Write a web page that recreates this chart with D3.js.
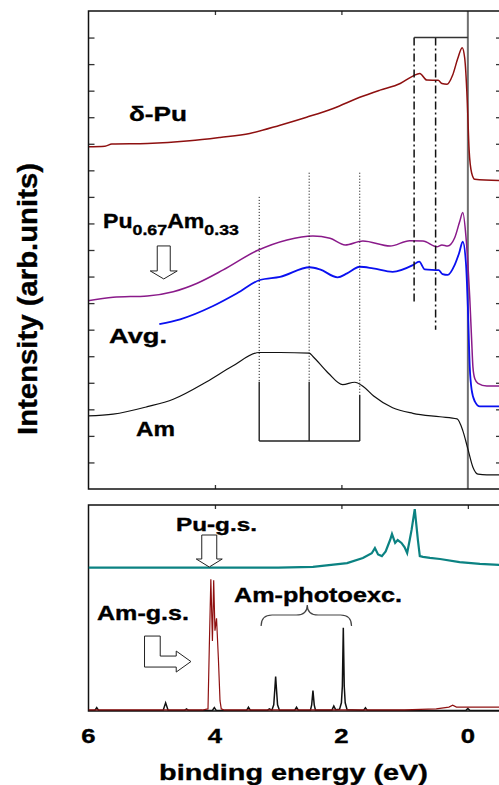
<!DOCTYPE html>
<html>
<head>
<meta charset="utf-8">
<script src="https://cdn.jsdelivr.net/npm/d3@7"></script>
<style>
  body { margin: 0; background: #fff; }
  text { font-family: "Liberation Sans", Arial, sans-serif; font-weight: bold; fill: #000; stroke: #000; stroke-width: 0.35px; }
</style>
</head>
<body>
<div id="chart"></div>
<script>
// photoemission spectra, [binding energy eV, intensity]
const deltaPu = [[6.01,12.89],[5.74,12.91],[5.63,12.99],[5.07,13.01],[4.40,13.11],[3.92,13.24],[3.45,13.39],[2.97,13.70],[2.55,14.00],[2.13,14.33],[1.71,14.75],[1.39,15.02],[1.07,15.27],[0.87,15.55],[0.76,15.65],[0.65,15.40],[0.47,15.39],[0.41,15.27],[0.33,15.24],[0.24,15.59],[0.16,16.21],[0.09,16.62],[0.05,16.23],[0.01,14.65],[-0.02,12.76],[-0.06,11.90],[-0.11,11.66],[-0.54,11.61]];
const puAm = [[6.01,7.09],[5.61,7.22],[5.07,7.27],[4.66,7.43],[4.28,7.75],[3.87,8.25],[3.34,8.97],[2.86,9.38],[2.45,9.53],[2.18,9.44],[1.94,9.19],[1.66,9.34],[1.23,9.15],[0.92,9.35],[0.71,9.34],[0.49,9.12],[0.41,9.19],[0.32,9.15],[0.21,9.45],[0.13,10.06],[0.08,10.41],[0.03,9.50],[0.00,8.50],[-0.03,7.20],[-0.06,5.60],[-0.08,4.60],[-0.11,4.15],[-0.16,3.98],[-0.30,3.88],[-0.54,3.88]];
const avg = [[4.88,6.21],[4.55,6.39],[4.03,6.89],[3.65,7.37],[3.29,7.87],[2.97,7.99],[2.50,8.35],[2.34,8.27],[2.06,7.97],[1.91,8.12],[1.71,8.37],[1.50,8.31],[1.19,8.18],[0.87,8.43],[0.77,8.56],[0.68,8.27],[0.46,8.24],[0.40,8.09],[0.32,8.06],[0.21,8.43],[0.14,8.87],[0.08,9.31],[0.03,8.49],[0.00,6.86],[-0.03,4.60],[-0.06,3.73],[-0.11,3.30],[-0.19,3.11],[-0.54,3.11]];
const am = [[6.01,2.75],[5.61,2.82],[5.07,3.10],[4.66,3.38],[4.13,4.04],[3.72,4.63],[3.30,5.14],[2.97,5.14],[2.51,5.12],[2.45,4.99],[2.21,4.37],[1.98,3.93],[1.79,4.02],[1.66,3.87],[1.49,3.50],[1.19,3.06],[0.87,2.85],[0.44,2.72],[0.17,2.64],[0.08,2.20],[0.00,1.51],[-0.08,0.82],[-0.16,0.56],[-0.30,0.53],[-0.54,0.53]];

// lower panel: calculated spectra
const puGs = [[6.0,69.6],[3.0,69.6],[2.45,70.0],[1.91,71.8],[1.66,74.3],[1.52,76.6],[1.47,79.1],[1.42,76.0],[1.36,75.2],[1.30,77.5],[1.23,83.0],[1.20,85.9],[1.15,81.6],[1.11,83.0],[1.05,81.6],[1.00,79.5],[0.96,76.7],[0.92,83.0],[0.89,87.9],[0.84,98.0],[0.79,83.0],[0.76,75.2],[0.71,74.8],[0.60,74.3],[0.44,73.8],[0.13,72.3],[-0.19,71.4],[-0.54,70.9]];
const amGs = [[6.0,0.5],[4.2,0.5],[4.11,1],[4.09,30],[4.065,64],[4.04,34],[4.02,63.5],[4.0,39],[3.975,45],[3.945,25],[3.92,5],[3.90,1],[3.85,0.5],[1.0,0.5],[0.5,1.0],[0.3,1.9],[0.24,2.8],[0.18,1.9],[-0.54,1.9]];
const amPhoto = [[6.0,0.3],[5.90,0.3],[5.87,1.7],[5.84,0.3],[4.82,0.3],[4.78,4.0],[4.74,0.3],[4.48,0.3],[4.45,1.0],[4.42,0.3],[4.04,0.3],[4.01,1.7],[3.98,0.3],[3.50,0.3],[3.47,1.8],[3.44,0.3],[3.17,0.3],[3.14,1.0],[3.10,0.4],[3.07,3],[3.05,12],[3.04,16.7],[3.03,12],[3.01,3],[2.98,0.4],[2.74,0.3],[2.71,1.8],[2.68,0.3],[2.49,0.4],[2.47,3],[2.45,9.9],[2.43,3],[2.41,0.4],[2.15,0.4],[2.12,2.4],[2.09,0.6],[2.03,0.8],[2.00,4],[1.985,12],[1.97,40.4],[1.955,12],[1.94,4],[1.91,0.6],[1.65,0.3],[1.62,1.6],[1.59,0.3],[0.03,0.3],[0.0,1.2],[-0.03,0.3],[-0.54,0.3]];

const energyTicks = [6, 4, 2, 0];
// guide lines
const dotE = [3.30, 2.51, 1.71];
const dotTop = [11.0, 11.91, 11.91];
const bracketTop = [4.04, 4.04, 3.54];
const bracketBase = 1.81;
const dashE = [0.85, 0.51];
const dashBottom = [7, 6];
const dashTop = 17;

const width = 499, height = 785;
const left = 88.5, right = 502;

const svg = d3.select("#chart").append("svg")
    .attr("width", width)
    .attr("height", height);

const x = d3.scaleLinear().domain([6, -0.54]).range([left, right]);
const yTop = d3.scaleLinear().domain([0, 18]).range([489, 11]);
const yBot = d3.scaleLinear().domain([0, 100]).range([711, 505]);

svg.append("clipPath").attr("id", "clipTop")
    .append("rect").attr("x", left).attr("y", 11).attr("width", right - left).attr("height", 478);
svg.append("clipPath").attr("id", "clipBot")
    .append("rect").attr("x", left).attr("y", 505).attr("width", right - left).attr("height", 206);

// text stretched to a measured width
function fitText(parent, str, tx, ty, size, w, extra) {
    const g = parent.append("g");
    const t = g.append("text").attr("font-size", size).text(str);
    if (extra) extra(t);
    const bw = t.node().getBBox().width;
    g.attr("transform", `translate(${tx},${ty}) scale(${w / bw},1)`);
    return g;
}

// ---- top panel ----
const gTop = svg.append("g");

gTop.append("line")
    .attr("x1", x(0)).attr("x2", x(0))
    .attr("y1", yTop(18)).attr("y2", yTop(0))
    .attr("stroke", "#707070").attr("stroke-width", 2);

// axes ticks
gTop.append("g").attr("transform", `translate(${left},0)`)
    .call(d3.axisRight(yTop).tickValues(d3.range(1, 18)).tickSize(6).tickFormat(""));
gTop.append("g").attr("transform", `translate(${right},0)`)
    .call(d3.axisLeft(yTop).tickValues(d3.range(1, 18)).tickSize(6).tickFormat(""));
gTop.append("g").attr("transform", `translate(0,${yTop(18)})`)
    .call(d3.axisBottom(x).tickValues([4, 2]).tickSize(4).tickFormat(""));
gTop.append("g").attr("transform", `translate(0,${yTop(0)})`)
    .call(d3.axisTop(x).tickValues([4, 2]).tickSize(4).tickFormat(""));
gTop.selectAll(".domain").remove();
gTop.selectAll(".tick line").attr("stroke", "#333").attr("stroke-width", 1.3);

const lineTop = d3.line()
    .x(d => x(d[0]))
    .y(d => yTop(d[1]))
    .curve(d3.curveMonotoneX);

const curves = gTop.append("g").attr("clip-path", "url(#clipTop)");
curves.append("path").datum(deltaPu).attr("d", lineTop)
    .attr("fill", "none").attr("stroke", "#8e1010").attr("stroke-width", 1.5);
curves.append("path").datum(puAm).attr("d", lineTop)
    .attr("fill", "none").attr("stroke", "#8a1a8a").attr("stroke-width", 1.5);
curves.append("path").datum(avg).attr("d", lineTop)
    .attr("fill", "none").attr("stroke", "#0a10f0").attr("stroke-width", 1.8);
curves.append("path").datum(am).attr("d", lineTop)
    .attr("fill", "none").attr("stroke", "#111").attr("stroke-width", 1.2);

// dotted guides + bracket
dotE.forEach((e, i) => {
    gTop.append("line")
        .attr("x1", x(e)).attr("x2", x(e))
        .attr("y1", yTop(dotTop[i])).attr("y2", yTop(bracketTop[i]))
        .attr("stroke", "#000").attr("stroke-width", 1).attr("stroke-dasharray", "1,2");
    gTop.append("line")
        .attr("x1", x(e)).attr("x2", x(e))
        .attr("y1", yTop(bracketTop[i])).attr("y2", yTop(bracketBase))
        .attr("stroke", "#222").attr("stroke-width", 1.4);
});
gTop.append("line")
    .attr("x1", x(dotE[0])).attr("x2", x(dotE[2]))
    .attr("y1", yTop(bracketBase)).attr("y2", yTop(bracketBase))
    .attr("stroke", "#222").attr("stroke-width", 1.4);

// dash-dot guides
dashE.forEach((e, i) => {
    gTop.append("line")
        .attr("x1", x(e)).attr("x2", x(e))
        .attr("y1", yTop(dashTop)).attr("y2", yTop(dashBottom[i]))
        .attr("stroke", "#111").attr("stroke-width", 1.5).attr("stroke-dasharray", "8,3,2,3");
});
gTop.append("line")
    .attr("x1", x(dashE[0])).attr("x2", x(0))
    .attr("y1", yTop(dashTop)).attr("y2", yTop(dashTop))
    .attr("stroke", "#333").attr("stroke-width", 1.5);

gTop.append("rect")
    .attr("x", left).attr("y", yTop(18))
    .attr("width", right - left).attr("height", yTop(0) - yTop(18))
    .attr("fill", "none").attr("stroke", "#111").attr("stroke-width", 1.5);

// hollow arrows
function downArrow(parent, tx, ty, shaftHalf, shaftLen, headHalf, headLen) {
    const pts = [[-shaftHalf, -headLen - shaftLen], [shaftHalf, -headLen - shaftLen], [shaftHalf, -headLen],
        [headHalf, -headLen], [0, 0], [-headHalf, -headLen], [-shaftHalf, -headLen]];
    parent.append("polygon")
        .attr("points", pts.map(p => [tx + p[0], ty + p[1]].join(",")).join(" "))
        .attr("fill", "#fff").attr("stroke", "#222").attr("stroke-width", 1);
}
downArrow(gTop, x(4.81), yTop(7.91), 6.5, 25, 13.5, 8);

fitText(gTop, "\u03b4-Pu", 129, 121, 21, 58);
fitText(gTop, "Pu", 103, 228, 19.5, 136, t => {
    t.append("tspan").attr("font-size", 15).attr("dy", 7).text("0.67");
    t.append("tspan").attr("dy", -7).text("Am");
    t.append("tspan").attr("font-size", 15).attr("dy", 7).text("0.33");
});
fitText(gTop, "Avg.", 109, 343, 21, 58);
fitText(gTop, "Am", 136, 436, 20, 39);

// ---- bottom panel ----
const gBot = svg.append("g");

gBot.append("g").attr("transform", `translate(0,${yBot(100)})`)
    .call(d3.axisBottom(x).tickValues([4, 2, 0]).tickSize(4).tickFormat(""));
gBot.selectAll(".domain").remove();
gBot.selectAll(".tick line").attr("stroke", "#333").attr("stroke-width", 1.3);

gBot.append("rect")
    .attr("x", left).attr("y", yBot(100))
    .attr("width", right - left).attr("height", yBot(0) - yBot(100))
    .attr("fill", "none").attr("stroke", "#111").attr("stroke-width", 1.5);

const lineBot = d3.line()
    .x(d => x(d[0]))
    .y(d => yBot(d[1]));

const curvesB = gBot.append("g").attr("clip-path", "url(#clipBot)");
curvesB.append("path").datum(puGs).attr("d", lineBot)
    .attr("fill", "none").attr("stroke", "#0b8282").attr("stroke-width", 2.2);
curvesB.append("path").datum(amPhoto).attr("d", lineBot)
    .attr("fill", "none").attr("stroke", "#111").attr("stroke-width", 1.5);
curvesB.append("path").datum(amGs).attr("d", lineBot)
    .attr("fill", "none").attr("stroke", "#8e1010").attr("stroke-width", 1.2);

downArrow(gBot, x(4.09), yBot(69.9), 7.5, 24, 13, 8);

// L-shaped arrow pointing at the ground-state peak
const lx = x(4.38), ly = yBot(24.0);
const lPts = [[-46.4, -25.5], [-30.7, -25.5], [-30.7, -5.5], [-14.7, -5.5], [-14.7, -10.5], [0, 0],
    [-14.7, 10.5], [-14.7, 5.5], [-46.4, 5.5]];
gBot.append("polygon")
    .attr("points", lPts.map(p => [lx + p[0], ly + p[1]].join(",")).join(" "))
    .attr("fill", "#fff").attr("stroke", "#222").attr("stroke-width", 1);

// curly brace over the photoexcitation peaks
const b0 = x(3.27), b1 = x(1.84), bm = x(2.54);
const yEnd = yBot(41.3), yArm = yBot(46.6), yTip = yBot(51.5);
gBot.append("path")
    .attr("d", `M${b0},${yEnd} Q${b0},${yArm} ${b0 + 11},${yArm} L${bm - 11},${yArm} Q${bm},${yArm} ${bm},${yTip}
        Q${bm},${yArm} ${bm + 11},${yArm} L${b1 - 11},${yArm} Q${b1},${yArm} ${b1},${yEnd}`)
    .attr("fill", "none").attr("stroke", "#444").attr("stroke-width", 1.2);

fitText(gBot, "Pu-g.s.", 176, 531, 19, 81);
fitText(gBot, "Am-g.s.", 97, 620, 19.5, 92);
fitText(gBot, "Am-photoexc.", 234, 602, 20, 168);

// x tick labels
energyTicks.forEach(v => {
    const g = svg.append("g");
    const t = g.append("text").attr("font-size", 19.5).attr("text-anchor", "middle").text(v);
    const bw = t.node().getBBox().width;
    g.attr("transform", `translate(${x(v)},743.3) scale(${14.5 / bw},1)`);
});

// axis titles
{
    const g = svg.append("g");
    const t = g.append("text").attr("font-size", 22).attr("text-anchor", "middle").text("binding energy (eV)");
    const bw = t.node().getBBox().width;
    g.attr("transform", `translate(293.5,780) scale(${269 / bw},1)`);
}
{
    const g = svg.append("g");
    const t = g.append("text").attr("font-size", 27).attr("text-anchor", "middle").text("Intensity (arb.units)");
    const bw = t.node().getBBox().width;
    g.attr("transform", `translate(36.5,299) rotate(-90) scale(${272 / bw},1)`);
}
</script>
</body>
</html>
